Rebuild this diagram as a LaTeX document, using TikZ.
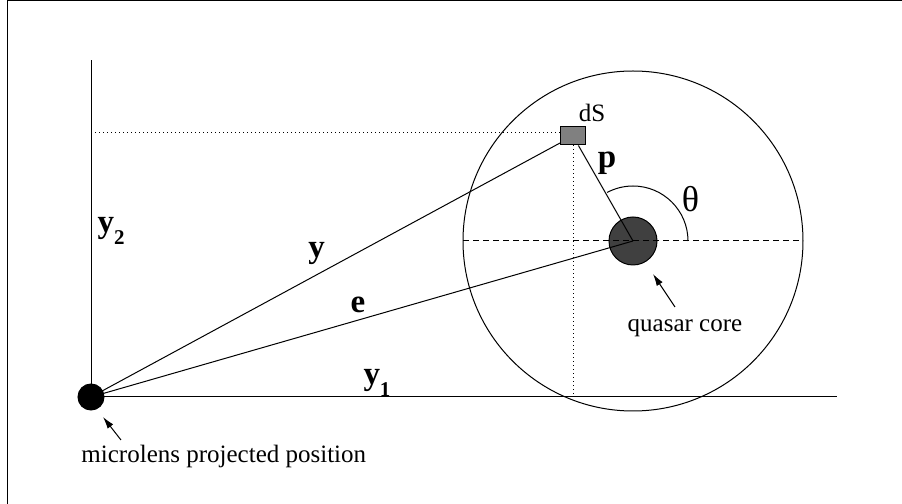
\documentclass[tikz,border=0pt]{standalone}
\usepackage{fontspec}
\setmainfont{Liberation Serif}
\usepackage{tikz}
\usetikzlibrary{arrows.meta}
\definecolor{corecol}{HTML}{404040}
\definecolor{patchcol}{HTML}{808080}
\newcommand{\vsub}[1]{\raisebox{-6pt}{\fontsize{10.5}{12}\selectfont #1}}

\begin{document}
\begin{tikzpicture}[x=0.5pt, y=0.5pt, line width=0.5pt, >={Latex[length=6pt,width=3.5pt]},
  font=\fontsize{12.5}{15}\selectfont,
  lbl/.style={inner sep=0pt, anchor=base},
  vec/.style={lbl, font=\fontsize{16.5}{20}\selectfont\bfseries},
  dots/.style={dash pattern=on 0.5pt off 1.5pt},
  dashes/.style={dash pattern=on 3pt off 2pt}]
\useasboundingbox (0,0) rectangle (902,504);
\draw (7,0) -- (7,503.5) -- (902,503.5);

% microlens at the origin, axes y1 and y2
\node[circle, draw, fill=black, minimum size=13pt, inner sep=0pt] (lens) at (91,107) {};
\coordinate (y2top) at (91,444);
\coordinate (y1end) at (837,107);
\draw (lens.center) -- (y2top);
\draw (lens.center) -- (y1end);

% quasar core and source disc
\node[circle, draw, fill=corecol, minimum size=24pt, inner sep=0pt] (core) at (633,263) {};
\draw (core.center) circle (170);
\coordinate (diskW) at (463,263);
\coordinate (diskE) at (803,263);
\draw[dashes] (diskW) -- (diskE);

% surface element dS
\node[rectangle, draw, fill=patchcol, minimum width=12.5pt, minimum height=9pt, inner sep=0pt] (dS) at (573,368) {};
\coordinate (dSrow) at (91,371.3);
\draw[dots] (dSrow) -- (dSrow -| dS.west);
\draw[dots] (dS.south) -- (dS.south |- lens);

% vectors y, e, p
\draw (lens.center) -- (dS);
\draw (lens.center) -- (core.center);
\draw (dS) -- (core.center);
\draw (core.center) ++(55,0) arc[start angle=0, end angle=118, radius=55];

% labels
\node[lbl] (dSlbl) at (592,382) {dS};
\node[vec] (plbl) at (607,336) {p};
\node[lbl, font=\fontsize{18}{21}\selectfont] (thetalbl) at (690.5,292) {θ};
\node[vec, anchor=base west] (y2lbl) at (97,271) {y\vsub{2}};
\node[vec] (ylbl) at (316.5,246) {y};
\node[vec] (elbl) at (358,191) {e};
\node[vec, anchor=base west] (y1lbl) at (363,119) {y\vsub{1}};

% pointers
\node[lbl] (corelbl) at (685,172) {quasar core};
\coordinate (coretail) at (675,197);
\coordinate (corehead) at (653,230);
\draw[->] (coretail) -- (corehead);
\node[lbl, anchor=base west] (lenslbl) at (81,41) {microlens projected position};
\coordinate (lenstail) at (121,64);
\coordinate (lenshead) at (103,87);
\draw[->] (lenstail) -- (lenshead);
\end{tikzpicture}
\end{document}
